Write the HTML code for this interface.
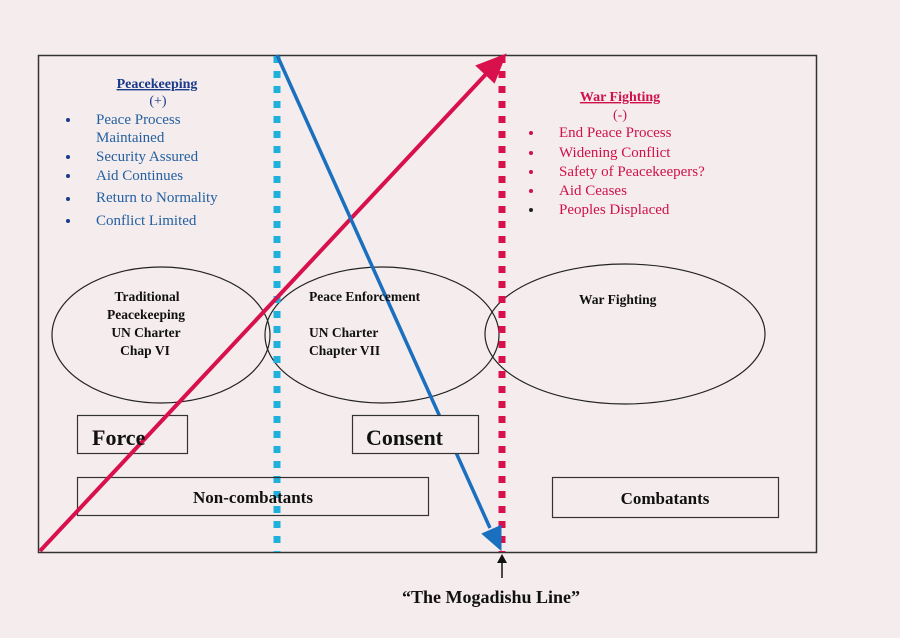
<!DOCTYPE html>
<html><head><meta charset="utf-8"><style>
html,body{margin:0;padding:0;background:#f5eded;}
svg{display:block}
text{font-family:"Liberation Serif",serif;}
</style></head><body>
<svg width="900" height="638" viewBox="0 0 900 638" xmlns="http://www.w3.org/2000/svg">
<rect width="900" height="638" fill="#f5eded"/>
<rect x="38.5" y="55.5" width="778" height="497" fill="none" stroke="#333" stroke-width="1.5"/>
<!-- ellipses -->
<ellipse cx="161" cy="335" rx="109" ry="68" fill="none" stroke="#222" stroke-width="1.2"/>
<ellipse cx="382" cy="335" rx="117" ry="68" fill="none" stroke="#222" stroke-width="1.2"/>
<ellipse cx="625" cy="334" rx="140" ry="70" fill="none" stroke="#222" stroke-width="1.2"/>
<!-- dotted lines -->
<line x1="277" y1="56" x2="277" y2="552" stroke="#1fb0dc" stroke-width="7" stroke-dasharray="7 8"/>
<line x1="502" y1="56" x2="502" y2="552" stroke="#d8104c" stroke-width="7" stroke-dasharray="7 8"/>
<!-- boxes -->
<rect x="77.5" y="415.5" width="110" height="38" fill="none" stroke="#333" stroke-width="1.2"/>
<rect x="77.5" y="477.5" width="351" height="38" fill="none" stroke="#333" stroke-width="1.2"/>
<rect x="552.5" y="477.5" width="226" height="40" fill="#f5eded" stroke="#333" stroke-width="1.2"/>
<!-- arrows -->
<line x1="40" y1="551" x2="488" y2="72" stroke="#d8104c" stroke-width="4"/>
<polygon points="504,56 478,66 494,81" fill="#d8104c" stroke="#d8104c" stroke-width="3"/>
<line x1="277" y1="55" x2="490" y2="528" stroke="#1a6fbf" stroke-width="3.5"/>
<polygon points="500,548 484,534 500,527" fill="#1a6fbf" stroke="#1a6fbf" stroke-width="3"/>
<rect x="352.5" y="415.5" width="126" height="38" fill="#f5eded" stroke="#333" stroke-width="1.2"/>
<text x="92" y="445" font-size="22" font-weight="bold" fill="#111">Force</text>
<text x="366" y="445" font-size="22" font-weight="bold" fill="#111">Consent</text>
<text x="253" y="503" font-size="17" font-weight="bold" text-anchor="middle" fill="#111">Non-combatants</text>
<text x="665" y="504" font-size="17" font-weight="bold" text-anchor="middle" fill="#111">Combatants</text>
<!-- mogadishu -->
<line x1="502" y1="562" x2="502" y2="578" stroke="#111" stroke-width="1.5"/>
<polygon points="502,554 497,563 507,563" fill="#111"/>
<text x="491" y="603" font-size="18" font-weight="bold" text-anchor="middle" fill="#111">“The Mogadishu Line”</text>
<!-- ellipse labels -->
<g font-size="13.5" font-weight="bold" fill="#111" text-anchor="middle">
<text x="147" y="301">Traditional</text>
<text x="146" y="319">Peacekeeping</text>
<text x="146" y="337">UN Charter</text>
<text x="145" y="355">Chap VI</text>
</g>
<g font-size="13.5" font-weight="bold" fill="#111">
<text x="309" y="301">Peace Enforcement</text>
<text x="309" y="337">UN Charter</text>
<text x="309" y="355">Chapter VII</text>
<text x="579" y="304">War Fighting</text>
</g>
<!-- peacekeeping list -->
<text x="157" y="88" font-size="14" font-weight="bold" fill="#1a3a8a" text-anchor="middle" text-decoration="underline">Peacekeeping</text>
<text x="158" y="105" font-size="14" fill="#1a3a8a" text-anchor="middle">(+)</text>
<g font-size="15" fill="#2460a0">
<text x="96" y="124">Peace Process</text>
<text x="96" y="142">Maintained</text>
<text x="96" y="161">Security Assured</text>
<text x="96" y="180">Aid Continues</text>
<text x="96" y="202">Return to Normality</text>
<text x="96" y="225">Conflict Limited</text>
</g>
<g fill="#1a3a8a">
<circle cx="68" cy="120" r="2"/><circle cx="68" cy="157" r="2"/><circle cx="68" cy="176" r="2"/><circle cx="68" cy="199" r="2"/><circle cx="68" cy="221" r="2"/>
</g>
<!-- war fighting list -->
<text x="620" y="101" font-size="14" font-weight="bold" fill="#d0104c" text-anchor="middle" text-decoration="underline">War Fighting</text>
<text x="620" y="119" font-size="14" fill="#d0104c" text-anchor="middle">(-)</text>
<g font-size="15" fill="#d0104c">
<text x="559" y="137">End Peace Process</text>
<text x="559" y="157">Widening Conflict</text>
<text x="559" y="176">Safety of Peacekeepers?</text>
<text x="559" y="195">Aid Ceases</text>
<text x="559" y="214">Peoples Displaced</text>
</g>
<g fill="#d0104c">
<circle cx="531" cy="133" r="2"/><circle cx="531" cy="153" r="2"/><circle cx="531" cy="172" r="2"/><circle cx="531" cy="191" r="2"/>
</g>
<circle cx="531" cy="210" r="2" fill="#222"/>
</svg>
</body></html>
